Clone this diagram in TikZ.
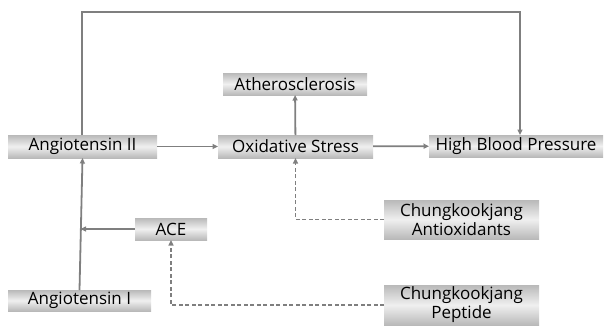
\documentclass[tikz,border=0pt]{standalone}
\usepackage{fontspec}
\setmainfont{Open Sans}
\usetikzlibrary{arrows.meta}
\definecolor{lc}{HTML}{7F7F7F}
\tikzset{
  box/.style={inner sep=0pt, outer sep=0pt, top color=gray!55, bottom color=gray!55, middle color=gray!12, draw=none, font=\fontsize{17}{18}\selectfont, text=black, align=center},
  conn/.style={draw=lc, line width=1.8pt, -{Triangle[length=5.5pt,width=5pt]}},
  dconn/.style={conn, dashed, dash pattern=on 4pt off 2.5pt},
}
\begin{document}
\begin{tikzpicture}[x=1pt,y=-1pt]
\useasboundingbox (0,0) rectangle (608,325);
\node[box, minimum width=149, minimum height=23] (a2) at (82.5,146.5) {Angiotensin II};
\node[box, minimum width=155, minimum height=23] (os) at (295.5,146.5) {Oxidative Stress};
\node[box, minimum width=174, minimum height=22] (hbp) at (516,146) {High Blood Pressure};
\node[box, minimum width=144, minimum height=22] (ath) at (295,84) {Atherosclerosis};
\node[box, minimum width=72, minimum height=22] (ace) at (171,229) {ACE};
\node[box, minimum width=143, minimum height=21] (a1) at (79.5,300.5) {Angiotensin I};
\node[box, minimum width=155, minimum height=39, font=\fontsize{17}{19}\selectfont] (cao) at (461.5,219.5) {Chungkookjang\\Antioxidants};
\node[box, minimum width=155, minimum height=40, font=\fontsize{17}{19}\selectfont] (cp) at (461.5,305) {Chungkookjang\\Peptide};
\coordinate (t1) at (82,12);
\coordinate (t2) at (520,12);
\coordinate (j) at (80.5,229);
\draw[conn] (a2.north -| t1) -- (t1) -- (t2) -- (t2 |- hbp.north);
\draw[conn] (a2) -- (os);
\draw[conn] (os) -- (hbp);
\draw[conn] (os) -- (ath);
\draw[conn] (a1.north) -- (a2.south);
\draw[conn] (ace) -- (j);
\draw[dconn] (cao.west) -- (cao.west -| os.south) -- (os.south);
\draw[dconn] (cp.west) -- (cp.west -| ace.south) -- (ace.south);
\end{tikzpicture}
\end{document}
